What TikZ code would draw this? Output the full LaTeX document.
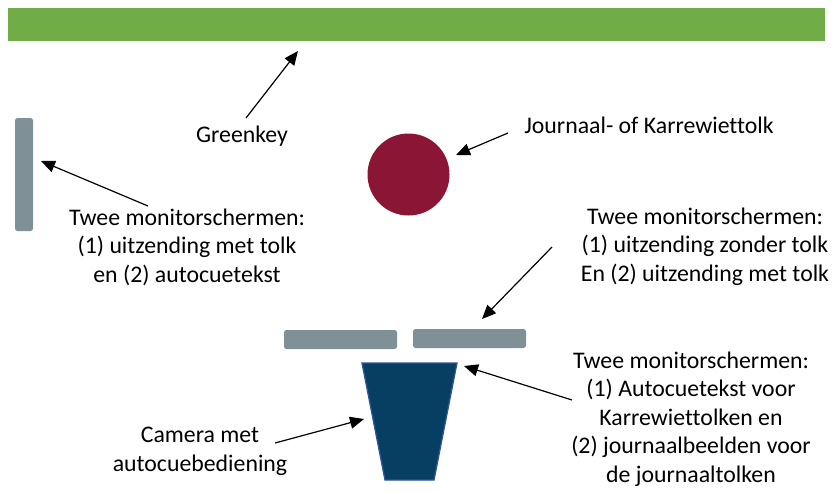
\documentclass[tikz,border=0pt]{standalone}
\usepackage{fontspec}
\setmainfont{Carlito}[Ligatures=NoCommon]
\usetikzlibrary{arrows.meta}
\definecolor{greenbar}{HTML}{70AD47}
\definecolor{monitorgray}{HTML}{7F9096}
\definecolor{tolkred}{HTML}{8A1535}
\definecolor{camfill}{HTML}{073F62}
\definecolor{camedge}{HTML}{2F5597}
\tikzset{
  lbl/.style={font=\fontsize{23.8}{28.4}\selectfont, align=center, inner sep=0pt, anchor=base},
  monitor/.style={fill=monitorgray, draw=none, rounded corners=2.5pt, inner sep=0pt},
  conn/.style={-{Triangle[length=14pt,width=12pt]}, line width=1.2pt, black},
}
\begin{document}
\begin{tikzpicture}[x=1pt,y=-1pt]
\useasboundingbox (0,0) rectangle (833,491);
% greenkey bar
\node[fill=greenbar, inner sep=0pt, minimum width=817pt, minimum height=33pt] (bar) at (416.5,24.5) {};
% left vertical monitor
\node[monitor, minimum width=18pt, minimum height=113pt] (mleft) at (24,174.5) {};
% interpreter
\node[circle, fill=tolkred, inner sep=0pt, minimum size=82pt] (tolk) at (408.5,174.5) {};
% bottom monitors
\node[monitor, minimum width=113pt, minimum height=19pt] (mb1) at (340.5,339.5) {};
\node[monitor, minimum width=113pt, minimum height=19pt] (mb2) at (469.5,338.5) {};
% camera
\coordinate (camtl) at (362,363);
\coordinate (camtr) at (457,363);
\coordinate (cambr) at (434,480);
\coordinate (cambl) at (385,480);
\draw[fill=camfill, draw=camedge, line width=1.3pt, line join=miter] (camtl) -- (camtr) -- (cambr) -- (cambl) -- cycle;
% labels (base = baseline of last line)
\node[lbl] (tgreen) at (242,142) {Greenkey};
\node[lbl] (tjour) at (649,133) {Journaal- of Karrewiettolk};
\node[lbl] (tleft) at (187,282) {Twee monitorschermen:\\(1) uitzending met tolk\\en (2) autocuetekst};
\node[lbl] (tright) at (705,281) {Twee monitorschermen:\\(1) uitzending zonder tolk\\En (2) uitzending met tolk};
\node[lbl] (tcam) at (200,471) {Camera met\\autocuebediening};
\node[lbl] (tlow) at (691,482) {Twee monitorschermen:\\(1) Autocuetekst voor\\Karrewiettolken en\\(2) journaalbeelden voor\\de journaaltolken};
% connector ends
\coordinate (sgreen) at (246,118);
\coordinate (egreen) at (298,51);
\coordinate (sjour) at (508,133);
\coordinate (ejour) at (456,155);
\coordinate (sleft) at (148,206);
\coordinate (eleft) at (41,161);
\coordinate (sright) at (552,247);
\coordinate (eright) at (482,319);
\coordinate (slow) at (572,400);
\coordinate (elow) at (464,366);
\coordinate (scam) at (275,443);
\coordinate (ecam) at (364,419);
\draw[conn] (sgreen) -- (egreen);
\draw[conn] (sjour) -- (ejour);
\draw[conn] (sleft) -- (eleft);
\draw[conn] (sright) -- (eright);
\draw[conn] (slow) -- (elow);
\draw[conn] (scam) -- (ecam);
\end{tikzpicture}
\end{document}
